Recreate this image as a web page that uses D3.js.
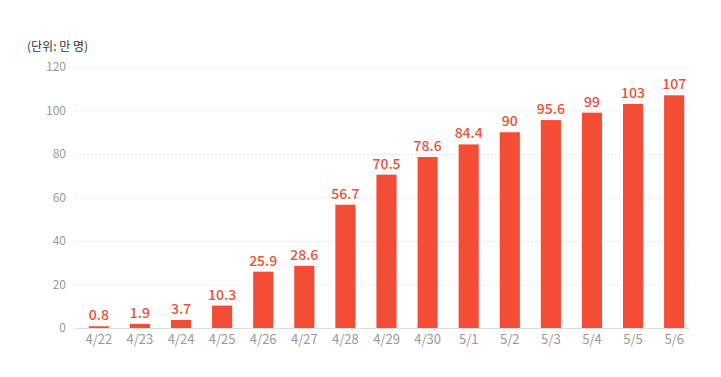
<!DOCTYPE html>
<html>
<head>
<meta charset="utf-8">
<script src="https://cdn.jsdelivr.net/npm/d3@7"></script>
<style>
body { margin: 0; background: #fff; }
text { font-family: "Noto Sans CJK KR", "Noto Sans", sans-serif; }
</style>
</head>
<body>
<script>
// data
var days = ["4/22","4/23","4/24","4/25","4/26","4/27","4/28","4/29","4/30","5/1","5/2","5/3","5/4","5/5","5/6"];
var values = [0.8, 1.9, 3.7, 10.3, 25.9, 28.6, 56.7, 70.5, 78.6, 84.4, 90, 95.6, 99, 103, 107];
var yTicks = [0, 20, 40, 60, 80, 100, 120];

var W = 721, H = 377;
var svg = d3.select("body").append("svg")
  .attr("width", W)
  .attr("height", H);

var x = d3.scaleBand()
  .domain(days)
  .range([78.5, 694.5])
  .paddingInner(0.51)
  .paddingOuter(0.25);

var y = d3.scaleLinear()
  .domain([0, 120])
  .range([328, 67]);

// unit label
svg.append("text")
  .attr("x", 27)
  .attr("y", 51)
  .attr("font-size", 12)
  .attr("fill", "#333")
  .text("(단위: 만 명)");

// grid lines
svg.selectAll("line.grid")
  .data(yTicks.slice(1))
  .enter().append("line")
  .attr("class", "grid")
  .attr("x1", 75).attr("x2", 690)
  .attr("y1", function(d){ return y(d) + 0.5; })
  .attr("y2", function(d){ return y(d) + 0.5; })
  .attr("stroke", "#e6e6e6")
  .attr("stroke-width", 1)
  .attr("stroke-dasharray", "2,2");

// y labels
svg.selectAll("text.ytick")
  .data(yTicks)
  .enter().append("text")
  .attr("class", "ytick")
  .attr("x", 66)
  .attr("y", function(d){ return y(d); })
  .attr("dy", "0.35em")
  .attr("text-anchor", "end")
  .attr("font-size", 12)
  .attr("fill", "#999")
  .text(function(d){ return d; });

// bars
svg.selectAll("rect.bar")
  .data(values)
  .enter().append("rect")
  .attr("class", "bar")
  .attr("x", function(d, i){ return x(days[i]); })
  .attr("width", x.bandwidth())
  .attr("y", function(d){ return y(d); })
  .attr("height", function(d){ return y(0) - y(d); })
  .attr("fill", "#f44d36");

// value labels
svg.selectAll("text.val")
  .data(values)
  .enter().append("text")
  .attr("class", "val")
  .attr("x", function(d, i){ return x(days[i]) + x.bandwidth() / 2; })
  .attr("y", function(d){ return y(d) - 6; })
  .attr("text-anchor", "middle")
  .attr("font-size", 14)
  .attr("font-weight", 500)
  .attr("fill", "#f04e37")
  .text(function(d){ return d; });

// baseline
svg.append("line")
  .attr("x1", 75).attr("x2", 689)
  .attr("y1", y(0) + 0.5).attr("y2", y(0) + 0.5)
  .attr("stroke", "#ddd");

// x labels
svg.selectAll("text.xtick")
  .data(days)
  .enter().append("text")
  .attr("class", "xtick")
  .attr("x", function(d){ return x(d) + x.bandwidth() / 2; })
  .attr("y", 344)
  .attr("text-anchor", "middle")
  .attr("font-size", 13)
  .attr("fill", "#999")
  .text(function(d){ return d; });
</script>
</body>
</html>
